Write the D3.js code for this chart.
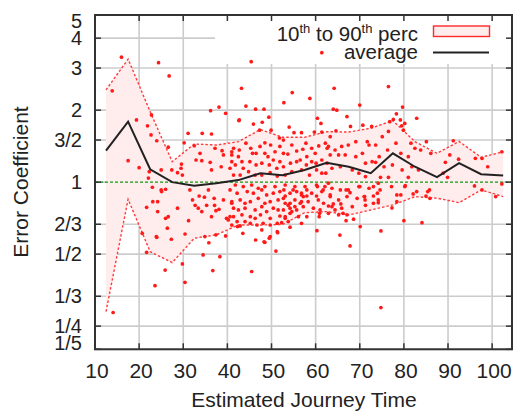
<!DOCTYPE html>
<html><head><meta charset="utf-8">
<script src="https://cdn.jsdelivr.net/npm/d3@7"></script>
<style>html,body{margin:0;padding:0;background:#fff;}svg{display:block;font-family:"Liberation Sans",Arial,Helvetica,sans-serif;}</style>
</head><body><svg id="c" width="516" height="414"></svg>
<script>
const xTicks = [10,20,30,40,50,60,70,80,90,100];
const yTicks = [5,4,3,2,3/2,1,2/3,1/2,1/3,1/4,1/5];
const yTickLabels = ["5","4","3","2","3/2","1","2/3","1/2","1/3","1/4","1/5"];
const binX = [12.5,17.5,22.5,27.5,32.5,37.5,42.5,47.5,52.5,57.5,62.5,67.5,72.5,77.5,82.5,87.5,92.5,97.5,102.5];
const avgVals = [1.354,1.79,1.132,1.0,0.967,0.99,1.02,1.09,1.07,1.125,1.206,1.16,1.09,1.32,1.16,1.05,1.20,1.08,1.065];
const p90Vals = [2.43,3.27,1.97,1.218,1.444,1.43,1.477,1.66,1.54,1.54,1.626,1.62,1.68,1.81,1.477,1.32,1.48,1.27,1.34];
const p10Vals = [0.2875,0.848,0.512,0.461,0.583,0.602,0.662,0.662,0.665,0.745,0.753,0.729,0.765,0.803,0.87,0.857,0.821,0.928,0.87];
const samples = [
[13.9,2.41],[16.0,3.33],[24.4,3.16],[26.8,2.78],[19.4,1.82],[21.9,1.72],[22.7,1.575],[17.5,1.23],[20.0,1.15],[22.3,1.106],[24.0,1.49],[26.6,1.40],[31.1,1.60],[34.3,1.60],[36.4,1.59],[36.2,1.99],[38.1,2.06],[39.6,1.94],[43.2,2.47],[44.2,2.08],[45.4,3.19],[46.4,2.02],[48.3,2.02],[49.4,1.87],[42.7,1.82],[45.9,1.75],[52.8,2.15],[54.7,2.37],[54.0,1.70],[55.1,1.61],[49.9,1.65],
[22.8,1.91],[25.0,1.125],[22.1,1.04],[27.4,1.125],[29.6,1.19],[30.2,1.46],[32.5,1.42],[33.8,1.32],[32.9,1.238],[34.2,1.23],[36.1,1.21],[36.4,1.125],[37.2,1.386],[38.8,1.354],[39.1,1.30],[38.6,1.16],[40.6,1.143],[41.0,1.30],[29.5,1.143],[28.7,1.095],[29.8,1.07],
[23.0,0.952],[25.0,0.928],[26.0,0.934],[21.7,0.785],[24.2,0.829],[28.7,0.778],[26.6,0.717],[26.0,0.706],[26.4,0.642],[23.9,0.592],[30.4,0.607],[21.7,0.509],[31.5,0.928],[32.1,0.843],[32.7,0.80],[33.4,0.778],[34.2,0.753],[33.6,0.875],[34.8,0.865],[35.3,0.80],[35.7,0.928],[37.0,0.856],[37.1,0.80],[37.4,0.76],[36.4,0.717],[39.1,0.843],[38.1,0.77],[39.8,0.706],[40.2,0.695],[40.6,0.717],[41.0,0.816],[34.9,0.592],[35.8,0.558],[34.5,0.496],[38.3,0.488],[37.4,0.602],
[23.1,0.829],[24.2,0.753],[25.1,0.913],[24.0,0.588],[27.3,0.577],[25.9,0.429],[23.6,0.369],[30.4,0.381],[20.7,0.611],[14.1,0.285],[36.7,0.427],[45.5,0.423],[46.4,0.573],[48.3,0.563],[51.0,0.515],[51.4,0.615],[49.7,0.592],[39.6,0.596],[47.8,0.631],[43.5,0.611],[42.3,0.652],[31.2,0.69],[29.8,0.455],
[67.8,0.541],[65.5,0.601],[70.1,0.652],[74.8,0.625],[80.0,0.69],[84.1,0.677],[60.3,0.627],[48.5,0.56],[49.5,0.583],[74.8,0.299],
[60.8,0.717],[66.9,0.69],[68.6,0.70],[54.2,0.648],[56.8,0.673],[96.0,0.964],[102.2,0.983],[100.8,0.87],[85.8,0.928],[85.0,0.875],[82.9,0.913],[82.1,0.893],[79.3,0.884],[80.3,0.967],[78.4,0.829],[77.3,0.78],[74.2,0.821],[73.1,0.816],[74.0,0.899],[73.1,0.958],[74.2,0.99],[70.0,0.958],[71.2,0.843],[71.0,0.87],[66.9,0.928],[67.8,0.904],[65.7,0.811],[66.2,0.741],[64.0,0.811],[64.4,0.765],[62.9,0.795],[60.9,0.741],[61.7,0.928],[60.4,0.958],[63.3,0.884],[62.9,0.99],[57.2,0.87],[56.5,0.816],[55.3,0.79],[54.6,0.753],[53.8,0.80],[53.1,0.717],[52.7,0.856],[52.8,0.928],[54.9,0.928],[58.0,0.928],[56.8,0.899],
[58.7,2.24],[42.6,1.81],[47.9,1.78],[60.4,1.85],[61.2,1.76],[47.3,1.65],[56.8,1.61],[59.7,1.62],[61.4,1.62],[52.7,1.50],[51.8,1.53],
[41.4,1.386],[44.2,1.455],[45.7,1.32],[46.5,1.32],[48.5,1.46],[48.5,1.32],[49.2,1.278],[50.8,1.34],[50.4,1.238],[52.7,1.32],[53.7,1.31],[55.7,1.35],[57.1,1.373],[59.1,1.386],[59.9,1.32],[60.7,1.417],[62.2,1.455],[62.6,1.386],[58.0,1.278],[56.5,1.238],[55.7,1.218],[59.1,1.218],[61.4,1.238],[45.1,1.218],[46.5,1.18],[43.6,1.143],[41.8,1.18],[42.5,1.278],[41.4,1.07],[44.8,1.106],[47.8,1.07],[49.7,1.095],[51.2,1.143],[52.7,1.16],[54.6,1.106],[56.8,1.125],[57.9,1.18],[60.2,1.125],[62.6,1.20],
[41.8,0.973],[43.6,0.958],[45.5,0.973],[47.0,0.943],[48.5,0.958],[50.8,0.958],[53.1,0.973],[55.3,0.958],[57.6,0.958],[60.2,0.973],[62.1,0.958],[42.2,0.899],[44.5,0.913],[47.8,0.928],[48.9,0.884],[51.9,0.913],[54.2,0.899],[56.8,0.884],[59.1,0.899],[61.4,0.913],[42.9,0.843],[45.2,0.829],[47.0,0.856],[49.7,0.829],[51.5,0.843],[53.1,0.816],[55.3,0.843],[58.3,0.829],[60.6,0.843],[41.4,0.778],[44.0,0.778],[46.3,0.765],[47.8,0.79],[50.4,0.778],[52.7,0.765],[55.7,0.765],[57.2,0.79],[59.5,0.778],[43.3,0.73],[45.2,0.717],[47.5,0.73],[49.7,0.706],[51.9,0.722],[54.2,0.741],[56.1,0.717],[42.2,0.684],[45.2,0.673],[48.1,0.673],[51.3,0.673],[53.8,0.684],[41.0,0.662],[42.9,0.656],[51.3,0.621],
[70.0,2.10],[64.0,2.02],[64.8,2.00],[67.1,1.88],[78.3,1.93],[79.7,2.06],[82.9,1.85],[76.5,1.63],[77.6,1.83],[79.5,1.72],[80.2,1.76],[76.8,1.79],[75.1,1.55],[71.7,1.477],[69.1,1.477],[63.3,1.55],[64.6,1.64],[67.9,1.71],
[62.9,1.41],[64.4,1.363],[65.9,1.41],[67.4,1.43],[65.2,1.30],[66.7,1.30],[63.3,1.30],[69.1,1.278],[70.6,1.32],[72.1,1.43],[73.6,1.43],[74.4,1.278],[76.3,1.363],[78.2,1.455],[81.6,1.455],[79.3,1.32],[81.0,1.278],[82.5,1.386],[72.8,1.218],[71.3,1.20],[73.6,1.21],[75.5,1.16],[77.4,1.18],[79.6,1.125],[81.8,1.16],[83.3,1.125],[63.7,1.143],[65.6,1.16],[68.3,1.125],[69.8,1.09],[71.3,1.055],[74.7,1.048],[76.5,1.048],[81.0,1.048],[62.3,1.09],
[63.7,0.943],[65.6,0.928],[67.4,0.928],[69.8,0.958],[72.1,0.943],[74.6,0.928],[77.2,0.958],[80.2,0.958],[63.3,0.87],[65.2,0.843],[67.1,0.87],[69.4,0.856],[71.1,0.87],[73.1,0.875],[74.2,0.843],[78.4,0.884],[63.7,0.79],[65.9,0.778],[68.3,0.79],[71.3,0.80],[65.2,0.73],[67.1,0.73],[62.9,0.741],
[85.1,1.477],[83.8,1.363],[86.1,1.32],[91.2,1.49],[90.4,1.30],[89.4,1.21],[88.9,1.09],[89.9,1.048],[92.4,1.247],[96.2,1.258],[99.0,1.16],[102.2,1.34],[97.7,1.258],[97.7,0.928],[85.4,0.913],[85.9,0.856],
[61.4,3.48],[64.2,2.47],[76.5,2.51],[79.2,1.82],[79.9,1.65],[72.7,1.71],[70.7,1.73],
[41.0,1.34],[42.7,1.363],[45.3,1.386],[47.4,1.41],[49.8,1.43],[51.9,1.41],[54.6,1.43],[57.8,1.455],[41.0,1.218],[43.3,1.218],[47.8,1.20],[49.5,1.18],[51.9,1.218],[54.3,1.20],[60.1,1.20],[42.9,1.07],[46.3,1.07],[51.3,1.06],[53.1,1.07],[58.6,1.07],[61.4,1.09],
[40.6,0.928],[45.9,0.899],[50.4,0.899],[53.1,0.875],[55.7,0.913],[58.0,0.875],[60.2,0.875],[41.0,0.829],[44.0,0.816],[48.5,0.816],[54.2,0.816],[56.8,0.829],[61.8,0.816],[42.5,0.765],[48.9,0.753],[51.5,0.765],[54.2,0.778],[61.0,0.765],[41.4,0.717],[46.3,0.706],[53.1,0.706],[58.0,0.717],[44.0,0.684],[46.7,0.662],[49.7,0.662],[52.3,0.677]
];

const svg = d3.select("#c");
const L = 95, R = 512, T = 15, B = 349.3;
const x = d3.scaleLinear().domain([10, 104.5]).range([L, R]);
const y = d3.scaleLog().domain([0.2, 5]).range([B, T]);

// grid
const grid = svg.append("g").attr("stroke", "#cccccc").attr("stroke-width", 1.6);
xTicks.forEach(t => grid.append("line").attr("x1", x(t)).attr("x2", x(t)).attr("y1", T).attr("y2", B));
yTicks.forEach(t => grid.append("line").attr("x1", L).attr("x2", R).attr("y1", y(t)).attr("y2", y(t)));

// legend background (opaque)
svg.append("rect").attr("x", 215).attr("y", T + 1).attr("width", R - 215 - 1).attr("height", 48).attr("fill", "#fff");

svg.append("defs").append("clipPath").attr("id", "pc").append("rect")
  .attr("x", L).attr("y", T).attr("width", R - L).attr("height", B - T);
const plot = svg.append("g").attr("clip-path", "url(#pc)");

const idx = d3.range(binX.length);
// band
plot.append("path").datum(idx)
  .attr("d", d3.area().x(i => x(binX[i])).y0(i => y(p10Vals[i])).y1(i => y(p90Vals[i])))
  .attr("fill", "#ffecec");
plot.append("path").datum(idx).attr("d", d3.line().x(i => x(binX[i])).y(i => y(p90Vals[i])))
  .attr("fill", "none").attr("stroke", "#ff3b3b").attr("stroke-width", 1.4).attr("stroke-dasharray", "2.5,2");
plot.append("path").datum(idx).attr("d", d3.line().x(i => x(binX[i])).y(i => y(p10Vals[i])))
  .attr("fill", "none").attr("stroke", "#ff3b3b").attr("stroke-width", 1.4).attr("stroke-dasharray", "2.5,2");

// reference line at 1
plot.append("line").attr("x1", L).attr("x2", R).attr("y1", y(1)).attr("y2", y(1))
  .attr("stroke", "#109a10").attr("stroke-width", 1.3).attr("stroke-dasharray", "3,2");

// dots
plot.append("g").selectAll("circle").data(samples).join("circle")
  .attr("cx", d => x(d[0])).attr("cy", d => y(d[1])).attr("r", 1.85).attr("fill", "#ff1a1a");

// average
plot.append("path").datum(idx).attr("d", d3.line().x(i => x(binX[i])).y(i => y(avgVals[i])))
  .attr("fill", "none").attr("stroke", "#222").attr("stroke-width", 2);

// frame & ticks
svg.append("rect").attr("x", L).attr("y", T).attr("width", R - L).attr("height", B - T)
  .attr("fill", "none").attr("stroke", "#333").attr("stroke-width", 2);
const tk = svg.append("g").attr("stroke", "#333").attr("stroke-width", 1.5);
xTicks.forEach(t => {
  tk.append("line").attr("x1", x(t)).attr("x2", x(t)).attr("y1", B).attr("y2", B - 6);
  tk.append("line").attr("x1", x(t)).attr("x2", x(t)).attr("y1", T).attr("y2", T + 6);
});
yTicks.forEach(t => {
  tk.append("line").attr("x1", L).attr("x2", L + 6).attr("y1", y(t)).attr("y2", y(t));
  tk.append("line").attr("x1", R).attr("x2", R - 6).attr("y1", y(t)).attr("y2", y(t));
});

// tick labels
const fs = 21;
svg.append("g").selectAll("text").data(xTicks).join("text")
  .attr("x", d => x(d) + 2).attr("y", 378).attr("text-anchor", "middle")
  .attr("font-size", fs).attr("fill", "#222").text(d => d);
svg.append("g").selectAll("text").data(yTicks).join("text")
  .attr("x", 82).attr("y", (d, i) => i === 0 ? y(d) + 6 : (i === yTicks.length - 1 ? y(d) - 7 : y(d)))
  .attr("dy", "0.36em").attr("text-anchor", "end")
  .attr("font-size", 20).attr("fill", "#222").text((d, i) => yTickLabels[i]);

// axis titles
svg.append("text").attr("x", 304).attr("y", 407).attr("text-anchor", "middle")
  .attr("font-size", fs).attr("fill", "#222").text("Estimated Journey Time");
svg.append("text").attr("transform", "translate(28,182) rotate(-90)").attr("text-anchor", "middle")
  .attr("font-size", fs).attr("fill", "#222").text("Error Coefficient");

// legend
const lg = svg.append("g").attr("font-size", 20.5).attr("fill", "#222");
const t1 = lg.append("text").attr("x", 418).attr("y", 40.5).attr("text-anchor", "end");
t1.append("tspan").text("10");
t1.append("tspan").attr("font-size", 13).attr("dy", -8).text("th");
t1.append("tspan").attr("dy", 8).text(" to 90");
t1.append("tspan").attr("font-size", 13).attr("dy", -8).text("th");
t1.append("tspan").attr("dy", 8).text(" perc");
lg.append("rect").attr("x", 433.5).attr("y", 26).attr("width", 56).attr("height", 10.5)
  .attr("fill", "#ffecec").attr("stroke", "#ff2a2a").attr("stroke-width", 1.4);
lg.append("text").attr("x", 418).attr("y", 59).attr("text-anchor", "end").text("average");
lg.append("line").attr("x1", 433).attr("x2", 489).attr("y1", 52.5).attr("y2", 52.5)
  .attr("stroke", "#222").attr("stroke-width", 2);
</script></body></html>
